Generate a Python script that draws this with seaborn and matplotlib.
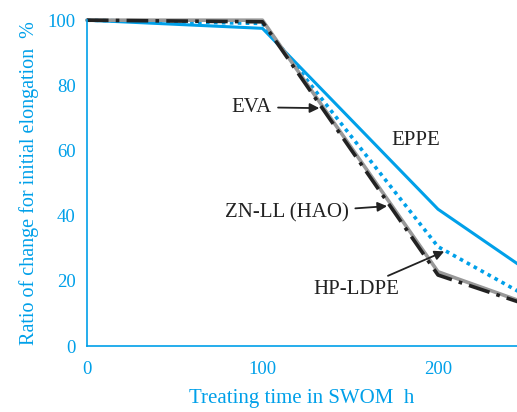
import matplotlib
matplotlib.use("Agg")
import matplotlib.pyplot as plt
import pandas as pd
import seaborn as sns

BLUE = "#00a0e9"

hours = [0, 100, 200, 250]
eppe = [100, 97.5, 42, 23.5]
hp_ldpe = [100, 99, 30.5, 15.5]
zn_ll = [100, 100, 22.8, 13.2]
eva = [100, 99.5, 21.8, 12.8]

x_ticks = [0, 100, 200]
y_ticks = [0, 20, 40, 60, 80, 100]


def setup_style():
    sns.set_theme(style="white")
    plt.rcParams["font.family"] = ["Liberation Serif", "DejaVu Serif"]


def build_frame():
    rows = []
    for name, values in [("EPPE", eppe), ("HP-LDPE", hp_ldpe), ("ZN-LL (HAO)", zn_ll), ("EVA", eva)]:
        for h, v in zip(hours, values):
            rows.append({"hours": h, "ratio": v, "material": name})
    return pd.DataFrame(rows)


def plot(df):
    fig = plt.figure(figsize=(5.17, 4.12), dpi=100)
    ax = fig.add_axes([0.168, 0.160, 0.832, 0.791])

    styles = {
        "EPPE": dict(color=BLUE, linewidth=2.2, linestyle="-"),
        "HP-LDPE": dict(color=BLUE, linewidth=2.6, linestyle=(0, (1, 1.2))),
        "ZN-LL (HAO)": dict(color="#999999", linewidth=2.6, linestyle="-"),
        "EVA": dict(color="#222222", linewidth=2.6, linestyle=(0, (6, 2, 1, 2))),
    }
    for name, style in styles.items():
        part = df[df["material"].eq(name)]
        sns.lineplot(data=part, x="hours", y="ratio", ax=ax, clip_on=False, **style)

    ax.set_xlim(0, 245)
    ax.set_ylim(0, 100)
    ax.set_xticks(x_ticks)
    ax.set_yticks(y_ticks)
    for side in ["top", "right"]:
        ax.spines[side].set_visible(False)
    for side in ["left", "bottom"]:
        ax.spines[side].set_color(BLUE)
        ax.spines[side].set_linewidth(1.2)
    ax.tick_params(direction="in", length=4, width=1, colors=BLUE, labelsize=13.5)
    ax.tick_params(axis="x", pad=11)
    ax.tick_params(axis="y", pad=8)
    ax.set_xlabel("Treating time in SWOM  h", color=BLUE, fontsize=15, labelpad=8)
    ax.set_ylabel("Ratio of change for initial elongation  %", color=BLUE, fontsize=14.5, labelpad=6)

    arrow = dict(arrowstyle="-|>", color="#222222", lw=1.3, mutation_scale=14)
    ax.annotate("EVA", xy=(134, 73), xytext=(94, 73.3), fontsize=15, ha="center", va="center",
                arrowprops=arrow, color="#222222")
    ax.annotate("ZN-LL (HAO)", xy=(172.6, 43), xytext=(114.2, 40.8), fontsize=15, ha="center", va="center",
                arrowprops=arrow, color="#222222")
    ax.annotate("HP-LDPE", xy=(205, 29.4), xytext=(153.3, 17.3), fontsize=15, ha="center", va="center",
                arrowprops=arrow, color="#222222")
    ax.text(187.5, 63.2, "EPPE", fontsize=15, ha="center", va="center", color="#222222")

    fig.savefig("out.png", dpi=100)
    plt.close(fig)


def main():
    setup_style()
    plot(build_frame())


if __name__ == "__main__":
    main()
